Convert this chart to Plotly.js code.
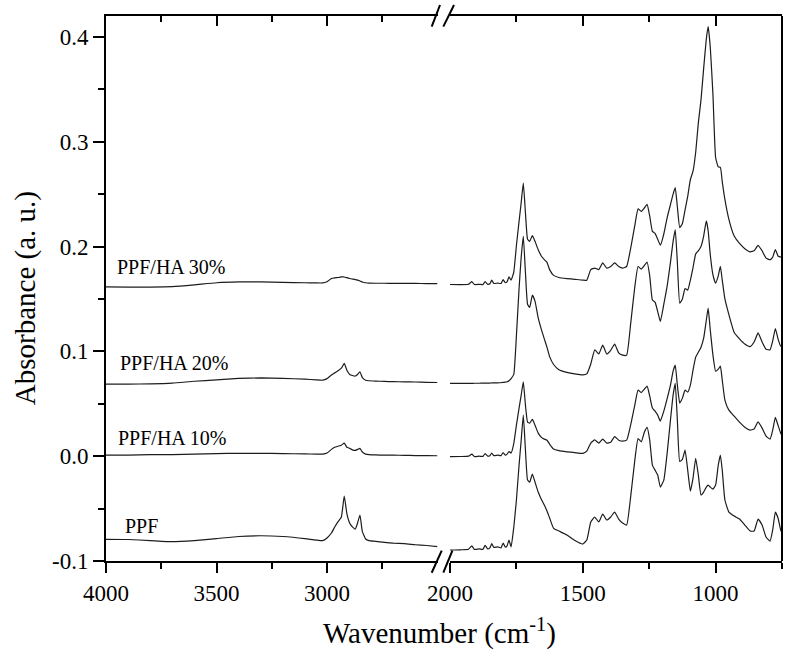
<!DOCTYPE html>
<html>
<head>
<meta charset="utf-8">
<script src="https://cdn.plot.ly/plotly-3.0.1.min.js"></script>
<style>html,body{margin:0;padding:0;background:#fff;}#chart{width:800px;height:655px;}
#chart text{font-family:'Liberation Serif','DejaVu Serif',serif !important;}</style>
</head>
<body>
<div id="chart"></div>
<script>
// ---- Data ----
const wnLeft = [4000,3900,3800,3700,3600,3500,3400,3300,3200,3100,3050,3020,3000,2980,2965,2950,2935,2922,2910,2897,2885,2872,2862,2851,2840,2825,2810,2780,2740,2700,2650,2600,2550,2500];
const ppfLeft = [-0.0793,-0.0795,-0.0805,-0.0816,-0.0805,-0.0786,-0.0766,-0.0759,-0.0766,-0.0786,-0.080,-0.0806,-0.078,-0.0733,-0.0676,-0.0625,-0.058,-0.038,-0.055,-0.064,-0.0675,-0.0695,-0.064,-0.0561,-0.072,-0.079,-0.0805,-0.0812,-0.0822,-0.083,-0.0835,-0.0845,-0.0852,-0.0862];
const ha10Left = [0.001,0.001,0.0015,0.0015,0.002,0.0025,0.0027,0.0027,0.0025,0.0022,0.002,0.002,0.003,0.0065,0.0085,0.0095,0.0105,0.0125,0.0085,0.0075,0.006,0.0055,0.0065,0.0075,0.004,0.002,0.0015,0.0012,0.001,0.001,0.0008,0.0006,0.0005,0.0004];
const ha20Left = [0.0687,0.0688,0.069,0.0697,0.0715,0.0728,0.0742,0.0747,0.0742,0.0735,0.0728,0.0725,0.074,0.0775,0.0795,0.0815,0.084,0.0885,0.082,0.078,0.077,0.0765,0.078,0.0805,0.075,0.0725,0.072,0.0717,0.0713,0.0711,0.071,0.0708,0.0705,0.0703];
const ha30Left = [0.1615,0.1614,0.1614,0.1618,0.1635,0.1655,0.1663,0.1663,0.1658,0.1655,0.1653,0.1653,0.1665,0.1695,0.1702,0.1705,0.171,0.171,0.1703,0.1695,0.169,0.1685,0.168,0.1672,0.1662,0.1655,0.1652,0.165,0.165,0.1649,0.1648,0.1648,0.1647,0.1647];

const wnRight = [2000,1960,1930,1918,1908,1890,1876,1868,1858,1850,
  1843,1835,1820,1808,1800,1792,1785,1778,1770,1760,
  1750,1740,1732,1724,1716,1708,1700,1690,1680,1668,
  1655,1645,1635,1625,1610,1590,1560,1530,1500,1485,
  1470,1455,1440,1425,1410,1395,1380,1365,1350,1335,
  1320,1305,1292,1280,1268,1258,1248,1238,1228,1218,
  1208,1195,1182,1170,1160,1152,1144,1135,1125,1115,
  1105,1095,1085,1075,1065,1055,1045,1035,1028,1020,
  1010,1000,990,982,975,965,950,930,910,890,
  870,855,840,825,810,795,785,775,765,755,
  750];
const ppfRight = [-0.0895,-0.0893,-0.0888,-0.0855,-0.089,-0.0885,-0.0888,-0.085,-0.0885,-0.0875,
  -0.0835,-0.087,-0.0865,-0.0875,-0.083,-0.0868,-0.0855,-0.080,-0.0865,-0.068,
  -0.0418,-0.0085,0.0153,0.0392,0.0058,-0.0228,-0.0247,-0.017,-0.0247,-0.0342,
  -0.0418,-0.0466,-0.0523,-0.059,-0.0688,-0.0714,-0.0752,-0.0805,-0.0838,-0.080,
  -0.0628,-0.058,-0.0628,-0.0552,-0.0609,-0.058,-0.0533,-0.060,-0.0638,-0.0657,
  -0.039,-0.0056,0.0168,0.0137,0.023,0.0275,0.0153,-0.0085,-0.0133,-0.018,
  -0.0295,-0.0228,0.0039,0.0344,0.0582,0.0694,0.0344,-0.005,-0.003,0.0058,
  -0.0133,-0.0333,-0.0209,-0.002,-0.018,-0.037,-0.0342,-0.0295,-0.0276,-0.0295,
  -0.0314,-0.0276,-0.0085,0.001,-0.0133,-0.0418,-0.0533,-0.0571,-0.060,-0.0657,
  -0.0714,-0.0714,-0.060,-0.0657,-0.0771,-0.081,-0.0704,-0.0533,-0.059,-0.0704,
  -0.0733];
const ha10Right = [-0.0005,-0.0003,0.0,0.002,-0.0003,0.0,-0.0002,0.0025,0.0,0.0005,
  0.003,0.0005,0.001,0.0005,0.0035,0.001,0.002,0.0045,0.003,0.012,
  0.0296,0.0458,0.0583,0.0709,0.0487,0.0325,0.0316,0.0351,0.0296,0.022,
  0.0177,0.0163,0.0153,0.0115,0.0068,0.0053,0.0042,0.0034,0.0027,0.0049,
  0.0125,0.0155,0.0125,0.0163,0.0125,0.0134,0.0187,0.0153,0.0144,0.0153,
  0.0296,0.0478,0.063,0.0607,0.064,0.0668,0.0573,0.0459,0.043,0.0392,
  0.0335,0.043,0.0554,0.0678,0.0811,0.0868,0.0678,0.0506,0.0554,0.063,
  0.0611,0.0678,0.0821,0.0945,0.0992,0.104,0.1126,0.1297,0.1412,0.1202,
  0.0964,0.0811,0.083,0.0859,0.0726,0.0535,0.0439,0.0382,0.0325,0.0277,
  0.0249,0.0259,0.0328,0.0268,0.0192,0.0163,0.0249,0.037,0.0296,0.022,
  0.0201];
const ha20Right = [0.0694,0.0694,0.0695,0.0695,0.0696,0.0696,0.0697,0.0697,0.0698,0.0698,
  0.0699,0.0699,0.07,0.0702,0.0704,0.0706,0.071,0.072,0.074,0.078,
  0.115,0.16,0.19,0.2098,0.175,0.145,0.142,0.1536,0.148,0.132,
  0.12,0.112,0.104,0.095,0.0875,0.0825,0.08,0.0785,0.0775,0.0785,
  0.088,0.1015,0.0975,0.106,0.0975,0.101,0.107,0.0985,0.0964,0.0964,
  0.126,0.16,0.181,0.1785,0.182,0.1853,0.172,0.149,0.147,0.138,
  0.1285,0.145,0.163,0.185,0.205,0.2162,0.185,0.146,0.15,0.16,
  0.1585,0.168,0.18,0.193,0.196,0.2,0.21,0.2245,0.215,0.192,
  0.173,0.165,0.172,0.1812,0.168,0.15,0.135,0.118,0.112,0.107,
  0.1045,0.109,0.1176,0.109,0.102,0.1015,0.11,0.1218,0.112,0.105,
  0.1043];
const ha30Right = [0.1638,0.1637,0.164,0.1665,0.1638,0.164,0.1638,0.1665,0.164,0.1645,
  0.168,0.1648,0.1652,0.1648,0.1685,0.1655,0.1665,0.171,0.168,0.1755,
  0.201,0.224,0.242,0.2606,0.232,0.207,0.205,0.2105,0.205,0.197,
  0.1905,0.1875,0.185,0.178,0.1725,0.1705,0.1695,0.1688,0.168,0.1679,
  0.178,0.1795,0.178,0.1844,0.1795,0.181,0.1844,0.181,0.1795,0.181,
  0.198,0.219,0.236,0.2335,0.237,0.2403,0.229,0.2145,0.2125,0.207,
  0.2013,0.212,0.228,0.24,0.25,0.2562,0.238,0.218,0.222,0.235,
  0.248,0.264,0.272,0.29,0.318,0.34,0.37,0.398,0.41,0.39,
  0.345,0.285,0.276,0.2756,0.262,0.245,0.226,0.21,0.203,0.198,
  0.195,0.196,0.2012,0.196,0.189,0.1875,0.19,0.1971,0.191,0.19,
  0.1895];

const seriesNames = ['PPF','PPF/HA 10%','PPF/HA 20%','PPF/HA 30%'];
const xTicksLeft = [4000,3500,3000];
const xMinorLeft = [3750,3250,2750];
const xTicksRight = [2000,1500,1000];
const xMinorRight = [1750,1250,750];
const yTicks = [-0.1,0.0,0.1,0.2,0.3,0.4];
const yTickLabels = ['-0.1','0.0','0.1','0.2','0.3','0.4'];
const yMinor = [-0.05,0.05,0.15,0.25,0.35];

// ---- Traces ----
const lineStyle = {color:'#1c1c1c', width:1.2, shape:'spline', smoothing:0.4};
const leftData = [ppfLeft, ha10Left, ha20Left, ha30Left];
const rightData = [ppfRight, ha10Right, ha20Right, ha30Right];
const traces = [];
for (let i = 0; i < 4; i++) {
  const top = (i === 3);
  traces.push({x: wnLeft, y: leftData[i], name: seriesNames[i], type:'scatter', mode:'lines',
    xaxis: top ? 'x3' : 'x', yaxis:'y', line: lineStyle, showlegend:false, hoverinfo:'skip'});
  traces.push({x: wnRight, y: rightData[i], name: seriesNames[i], type:'scatter', mode:'lines',
    xaxis: top ? 'x4' : 'x2', yaxis:'y', line: lineStyle, showlegend:false, hoverinfo:'skip'});
}

const FONT = 'Liberation Serif';
const leftDom = [0, 0.4904];
const rightDom = [0.5089, 1];
function xAx(opts) {
  return Object.assign({
    showgrid:false, zeroline:false, showline:true, linewidth:2, linecolor:'#000',
    ticks:'outside', ticklen:10, tickwidth:2, tickcolor:'#000', tickmode:'array',
    tickfont:{family:FONT, size:23, color:'#000'}, anchor:'y', fixedrange:true
  }, opts);
}

const layout = {
  width:800, height:655,
  margin:{l:106, r:18, t:16, b:94},
  paper_bgcolor:'#fff', plot_bgcolor:'#fff',
  font:{family:FONT, color:'#000'},
  showlegend:false,
  xaxis: xAx({domain:leftDom, range:[4000,2500], tickvals:xTicksLeft,
    minor:{tickmode:'array', tickvals:xMinorLeft, ticks:'outside', ticklen:6, tickwidth:2, tickcolor:'#000', showgrid:false}}),
  xaxis2: xAx({domain:rightDom, range:[2000,750], tickvals:xTicksRight,
    minor:{tickmode:'array', tickvals:xMinorRight, ticks:'outside', ticklen:6, tickwidth:2, tickcolor:'#000', showgrid:false}}),
  xaxis3: xAx({overlaying:'x', side:'top', range:[4000,2500], tickvals:xTicksLeft, ticks:'inside', showticklabels:false,
    minor:{tickmode:'array', tickvals:xMinorLeft, ticks:'inside', ticklen:6, tickwidth:2, tickcolor:'#000', showgrid:false}}),
  xaxis4: xAx({overlaying:'x2', side:'top', range:[2000,750], tickvals:xTicksRight, ticks:'inside', showticklabels:false,
    minor:{tickmode:'array', tickvals:xMinorRight, ticks:'inside', ticklen:6, tickwidth:2, tickcolor:'#000', showgrid:false}}),
  yaxis: {
    range:[-0.1,0.42], anchor:'x', showgrid:false, zeroline:false, showline:true, linewidth:2, linecolor:'#000',
    ticks:'outside', ticklen:11, tickwidth:2, tickcolor:'#000', tickmode:'array', tickvals:yTicks, ticktext:yTickLabels,
    tickfont:{family:FONT, size:23, color:'#000'}, fixedrange:true,
    minor:{tickmode:'array', tickvals:yMinor, ticks:'outside', ticklen:6, tickwidth:2, tickcolor:'#000', showgrid:false}
  },
  annotations: [
    {text:'PPF/HA 30%', xref:'paper', yref:'paper', x:0.0133, y:0.5394, xanchor:'left', yanchor:'middle', showarrow:false, font:{family:FONT, size:20, color:'#000'}},
    {text:'PPF/HA 20%', xref:'paper', yref:'paper', x:0.0178, y:0.3633, xanchor:'left', yanchor:'middle', showarrow:false, font:{family:FONT, size:20, color:'#000'}},
    {text:'PPF/HA 10%', xref:'paper', yref:'paper', x:0.0148, y:0.2257, xanchor:'left', yanchor:'middle', showarrow:false, font:{family:FONT, size:20, color:'#000'}},
    {text:'PPF', xref:'paper', yref:'paper', x:0.0251, y:0.0642, xanchor:'left', yanchor:'middle', showarrow:false, font:{family:FONT, size:20, color:'#000'}},
    {text:'Wavenumber (cm<sup>-1</sup>)', xref:'paper', yref:'paper', x:0.494, y:-0.13, xanchor:'center', yanchor:'middle', showarrow:false, font:{family:FONT, size:29, color:'#000'}},
    {text:'Absorbance (a. u.)', xref:'paper', yref:'paper', x:-0.118, y:0.4826, xanchor:'center', yanchor:'middle', textangle:-90, showarrow:false, font:{family:FONT, size:29, color:'#000'}}
  ],
  shapes: [
    {type:'line', xref:'paper', yref:'paper', x0:1, x1:1, y0:0, y1:1, line:{color:'#000', width:2}},
    {type:'line', xref:'paper', yref:'paper', x0:0.4818, x1:0.4966, y0:-0.0215, y1:0.0189, line:{color:'#000', width:2}},
    {type:'line', xref:'paper', yref:'paper', x0:0.4990, x1:0.5124, y0:-0.0215, y1:0.0189, line:{color:'#000', width:2}},
    {type:'line', xref:'paper', yref:'paper', x0:0.4818, x1:0.4941, y0:0.9804, y1:1.0202, line:{color:'#000', width:2}},
    {type:'line', xref:'paper', yref:'paper', x0:0.4990, x1:0.5148, y0:0.9804, y1:1.0202, line:{color:'#000', width:2}}
  ]
};

Plotly.newPlot('chart', traces, layout, {staticPlot:true, displayModeBar:false});
</script>
</body>
</html>
